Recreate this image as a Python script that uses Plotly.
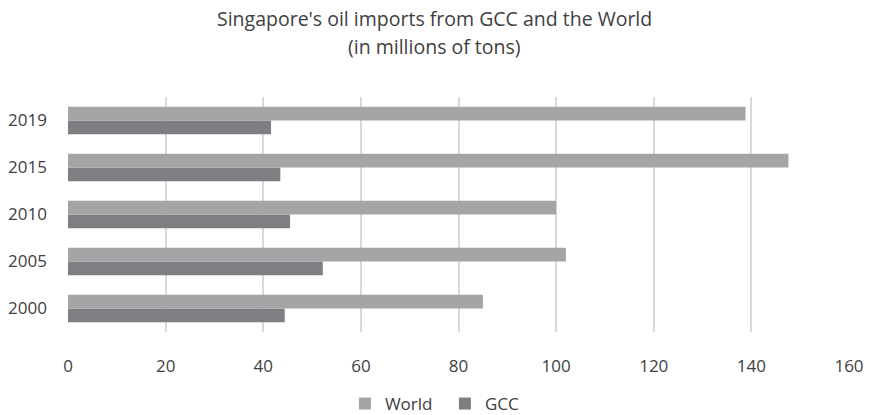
import plotly.graph_objects as go

years = ["2000", "2005", "2010", "2015", "2019"]
world = [85, 102, 100, 147.6, 138.8]
gcc = [44.4, 52.2, 45.5, 43.5, 41.6]

title_lines = ["Singapore's oil imports from GCC and the World", "(in millions of tons)"]

world_color = "#A5A5A8"
gcc_color = "#7F7F83"
text_color = "#404040"
font_family = "Open Sans, Lato, sans-serif"

W, H = 869, 415
M_LEFT, M_RIGHT = 68, 20
M_TOP, M_BOTTOM = 97, 83
plot_w = W - M_LEFT - M_RIGHT
plot_h = H - M_TOP - M_BOTTOM


def paper_x(xpix):
    """Convert a pixel column into paper coordinates."""
    return (xpix - M_LEFT) / plot_w


def paper_y(ypix):
    """Convert a pixel row (from the top of the page) into paper coordinates."""
    return (H - M_BOTTOM - ypix) / plot_h


fig = go.Figure()
fig.add_trace(go.Bar(y=years, x=gcc, name="GCC", orientation="h",
                     marker=dict(color=gcc_color, line=dict(width=0)), legendrank=2))
fig.add_trace(go.Bar(y=years, x=world, name="World", orientation="h",
                     marker=dict(color=world_color, line=dict(width=0)), legendrank=1))

# two-line title, centred on the page
for line, ypix in zip(title_lines, [19, 46]):
    fig.add_annotation(text=line, x=paper_x(W / 2), xref="paper", y=paper_y(ypix), yref="paper",
                       xanchor="center", yanchor="middle", showarrow=False,
                       font=dict(size=19.5, color=text_color, family=font_family))

fig.update_layout(
    width=W, height=H,
    margin=dict(l=M_LEFT, r=M_RIGHT, t=M_TOP, b=M_BOTTOM, autoexpand=False),
    paper_bgcolor="white", plot_bgcolor="white",
    barmode="group", bargap=0.42, bargroupgap=0,
    font=dict(family=font_family, color=text_color, size=17),
    xaxis=dict(range=[0, 160], dtick=20, showgrid=True, gridcolor="#D9D9D9", gridwidth=1.5,
               zeroline=False, showline=False, ticks="", ticklabelstandoff=22,
               automargin=False, tickfont=dict(size=17, color=text_color)),
    yaxis=dict(type="category", categoryorder="array", categoryarray=years,
               range=[-0.5, 4.5], showgrid=False, zeroline=False, showline=False,
               ticks="", ticklabelstandoff=20, automargin=False,
               tickfont=dict(size=17, color=text_color)),
    legend=dict(orientation="h", x=0.512, xanchor="center", xref="container",
                y=paper_y(404), yanchor="middle",
                font=dict(size=17, color=text_color), itemwidth=30,
                tracegroupgap=0, entrywidth=55),
    showlegend=True,
)

fig.write_html("out.html")
